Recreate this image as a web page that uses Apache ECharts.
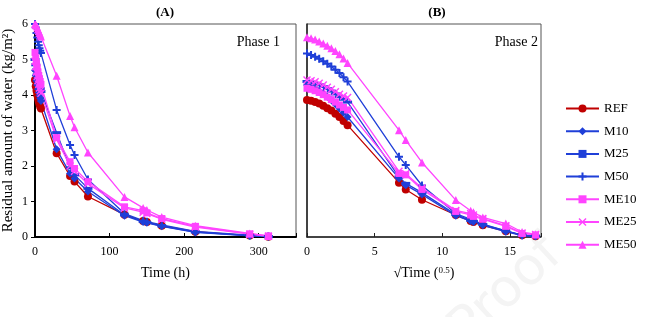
<!DOCTYPE html>
<html>
<head>
<meta charset="utf-8">
<title>Residual water</title>
<script src="https://cdn.jsdelivr.net/npm/echarts@6/dist/echarts.min.js"></script>
<style>
  html, body { margin: 0; padding: 0; background: #fff; }
  #chart { width: 665px; height: 317px; }
</style>
</head>
<body>
<div id="chart"></div>
<script>
// Phase 1 (panel A): time in hours
var timeA = [0, 1, 2, 3, 4, 5, 6, 7, 8, 29, 47, 53, 71, 120, 145, 150, 170, 215, 288, 313];
var refA  = [4.42, 4.25, 4.12, 4.0, 3.9, 3.82, 3.74, 3.67, 3.62, 2.36, 1.72, 1.56, 1.14, 0.63, 0.45, 0.42, 0.32, 0.15, 0.04, 0.01];
var m10A  = [4.7, 4.55, 4.4, 4.28, 4.17, 4.07, 3.98, 3.9, 3.83, 2.47, 1.79, 1.65, 1.28, 0.6, 0.42, 0.4, 0.3, 0.13, 0.03, 0.01];
var m25A  = [5.0, 4.85, 4.7, 4.57, 4.45, 4.35, 4.26, 4.18, 4.1, 2.94, 1.95, 1.75, 1.37, 0.62, 0.44, 0.41, 0.31, 0.14, 0.04, 0.01];
var m50A  = [6.0, 5.9, 5.75, 5.62, 5.5, 5.4, 5.32, 5.25, 5.18, 3.58, 2.59, 2.31, 1.62, 0.66, 0.46, 0.43, 0.34, 0.16, 0.05, 0.02];
var me10A = [5.2, 5.05, 4.9, 4.77, 4.65, 4.55, 4.46, 4.38, 4.3, 2.8, 2.12, 1.93, 1.56, 0.85, 0.74, 0.68, 0.52, 0.3, 0.09, 0.03];
var me25A = [4.95, 4.8, 4.65, 4.52, 4.4, 4.3, 4.2, 4.12, 4.05, 2.75, 2.0, 1.85, 1.5, 0.82, 0.7, 0.66, 0.5, 0.28, 0.08, 0.02];
var me50A = [6.0, 5.98, 5.95, 5.9, 5.85, 5.8, 5.75, 5.7, 5.65, 4.54, 3.41, 3.09, 2.38, 1.13, 0.82, 0.76, 0.56, 0.32, 0.1, 0.03];

// Phase 2 (panel B): square root of time
var sqrtTimeB = [0, 0.3, 0.6, 0.9, 1.2, 1.5, 1.8, 2.1, 2.4, 2.7, 3.0, 6.8, 7.3, 8.5, 11.0, 12.1, 12.3, 13.0, 14.7, 15.9, 16.9];
var refB  = [3.86, 3.84, 3.8, 3.76, 3.7, 3.63, 3.56, 3.47, 3.38, 3.27, 3.15, 1.53, 1.34, 1.05, 0.62, 0.45, 0.42, 0.33, 0.16, 0.05, 0.02];
var m10B  = [4.28, 4.24, 4.19, 4.12, 4.04, 3.95, 3.85, 3.74, 3.62, 3.5, 3.38, 1.65, 1.46, 1.2, 0.6, 0.45, 0.42, 0.33, 0.15, 0.04, 0.02];
var m25B  = [4.38, 4.36, 4.33, 4.29, 4.24, 4.18, 4.11, 4.03, 3.95, 3.88, 3.8, 1.69, 1.51, 1.25, 0.63, 0.47, 0.44, 0.35, 0.17, 0.05, 0.02];
var m50B  = [5.17, 5.13, 5.08, 5.02, 4.95, 4.88, 4.8, 4.71, 4.62, 4.5, 4.38, 2.26, 2.03, 1.45, 0.66, 0.5, 0.46, 0.36, 0.17, 0.05, 0.03];
var me10B = [4.19, 4.16, 4.12, 4.07, 4.01, 3.94, 3.87, 3.8, 3.72, 3.65, 3.58, 1.79, 1.75, 1.34, 0.72, 0.62, 0.58, 0.5, 0.3, 0.1, 0.06];
var me25B = [4.42, 4.4, 4.37, 4.33, 4.28, 4.22, 4.16, 4.09, 4.02, 3.97, 3.93, 1.85, 1.78, 1.38, 0.75, 0.66, 0.62, 0.52, 0.32, 0.11, 0.07];
var me50B = [5.63, 5.6, 5.56, 5.51, 5.45, 5.39, 5.32, 5.24, 5.15, 5.03, 4.9, 3.01, 2.73, 2.1, 1.04, 0.74, 0.7, 0.55, 0.38, 0.14, 0.08];

var seriesNames = ['REF', 'M10', 'M25', 'M50', 'ME10', 'ME25', 'ME50'];

var RED = '#C00000';
var BLUE = '#1F3FD8';
var PINK = '#FF44FF';
var FONT = 'Liberation Serif';

var PLUS = 'path://M3,0H5V3H8V5H5V8H3V5H0V3H3Z';
var CROSS = 'path://M1,0L4,3L7,0L8,1L5,4L8,7L7,8L4,5L1,8L0,7L3,4L0,1Z';

var styles = {
  REF:  { color: RED,  symbol: 'circle',   size: 8 },
  M10:  { color: BLUE, symbol: 'diamond',  size: 8 },
  M25:  { color: BLUE, symbol: 'rect',     size: [9, 3] },
  M50:  { color: BLUE, symbol: PLUS,       size: 8 },
  ME10: { color: PINK, symbol: 'rect',     size: 7 },
  ME25: { color: PINK, symbol: CROSS,      size: 8 },
  ME50: { color: PINK, symbol: 'triangle', size: 8 }
};

var dataA = { REF: refA, M10: m10A, M25: m25A, M50: m50A, ME10: me10A, ME25: me25A, ME50: me50A };
var dataB = { REF: refB, M10: m10B, M25: m25B, M50: m50B, ME10: me10B, ME25: me25B, ME50: me50B };

function makeSeries(name, xs, ys, idx) {
  var s = styles[name];
  return {
    name: name,
    type: 'line',
    xAxisIndex: idx,
    yAxisIndex: idx,
    data: xs.map(function (x, i) { return [x, ys[i]]; }),
    symbol: s.symbol,
    symbolSize: s.size,
    showAllSymbol: true,
    clip: false,
    lineStyle: { color: s.color, width: 1.3 },
    itemStyle: { color: s.color },
    emphasis: { disabled: true }
  };
}

var series = [];
seriesNames.forEach(function (n) { series.push(makeSeries(n, timeA, dataA[n], 0)); });
seriesNames.forEach(function (n) { series.push(makeSeries(n, sqrtTimeB, dataB[n], 1)); });

var chart = echarts.init(document.getElementById('chart'), null, { renderer: 'canvas' });

var option = {
  animation: false,
  textStyle: { fontFamily: FONT },
  grid: [
    { left: 33, top: 24, width: 263, height: 213, show: true, borderColor: '#555', borderWidth: 1 },
    { left: 307, top: 24, width: 234, height: 213, show: true, borderColor: '#555', borderWidth: 1 }
  ],
  xAxis: [
    {
      gridIndex: 0, type: 'value', min: 0, max: 350, interval: 100,
      name: 'Time (h)', nameLocation: 'middle', nameGap: 29,
      nameTextStyle: { fontFamily: FONT, fontSize: 14, color: '#000' },
      axisLine: { show: true, lineStyle: { color: '#000', width: 2 } },
      axisTick: { show: true, inside: true, length: 4, lineStyle: { color: '#000' } },
      axisLabel: {
        fontFamily: FONT, fontSize: 12, color: '#000', margin: 9,
        formatter: function (v) { return v % 100 === 0 ? String(v) : ''; }
      },
      splitLine: { show: false }
    },
    {
      gridIndex: 1, type: 'value', min: 0, max: 17.3, interval: 5,
      name: '√Time ({sup|0.5})', nameLocation: 'middle', nameGap: 29,
      nameTextStyle: {
        fontFamily: FONT, fontSize: 14, color: '#000',
        rich: { sup: { fontFamily: FONT, fontSize: 9, verticalAlign: 'top', padding: [0, 0, 6, 0] } }
      },
      axisLine: { show: true, lineStyle: { color: '#222', width: 1.5 } },
      axisTick: { show: true, inside: true, length: 4, lineStyle: { color: '#222' } },
      axisLabel: {
        fontFamily: FONT, fontSize: 12, color: '#000', margin: 9,
        formatter: function (v) { return v % 5 === 0 ? String(v) : ''; }
      },
      splitLine: { show: false }
    }
  ],
  yAxis: [
    {
      gridIndex: 0, type: 'value', min: 0, max: 6, interval: 1,
      name: 'Residual amount of water (kg/m²)', nameLocation: 'middle', nameGap: 19,
      nameTextStyle: { fontFamily: FONT, fontSize: 15, color: '#000' },
      axisLine: { show: true, lineStyle: { color: '#000', width: 2 } },
      axisTick: { show: true, length: 4, lineStyle: { color: '#000' } },
      axisLabel: { fontFamily: FONT, fontSize: 12, color: '#000', margin: 7 },
      splitLine: { show: false }
    },
    {
      gridIndex: 1, type: 'value', min: 0, max: 6, interval: 1,
      axisLine: { show: true, lineStyle: { color: '#222', width: 1.5 } },
      axisTick: { show: false },
      axisLabel: { show: false },
      splitLine: { show: false }
    }
  ],
  legend: {
    data: seriesNames,
    orient: 'vertical',
    left: 560,
    top: 97,
    itemWidth: 33,
    itemHeight: 10,
    itemGap: 9.7,
    selectedMode: false,
    textStyle: { fontFamily: FONT, fontSize: 13, color: '#000' }
  },
  graphic: [
    {
      type: 'text', left: 440, top: 228, rotation: 0.75, z: -10,
      style: { text: 'Proof', fontFamily: 'DejaVu Sans', fontSize: 52, fill: '#f4f4f4' }
    },
    {
      type: 'text', x: 165, y: 13,
      style: { text: '(A)', fontFamily: FONT, fontSize: 13, fontWeight: 'bold', fill: '#000', align: 'center', verticalAlign: 'middle' }
    },
    {
      type: 'text', x: 437, y: 13,
      style: { text: '(B)', fontFamily: FONT, fontSize: 13, fontWeight: 'bold', fill: '#000', align: 'center', verticalAlign: 'middle' }
    },
    {
      type: 'text', x: 280, y: 42,
      style: { text: 'Phase 1', fontFamily: FONT, fontSize: 14, fill: '#000', align: 'right', verticalAlign: 'middle' }
    },
    {
      type: 'text', x: 538, y: 42,
      style: { text: 'Phase 2', fontFamily: FONT, fontSize: 14, fill: '#000', align: 'right', verticalAlign: 'middle' }
    }
  ],
  series: series
};

chart.setOption(option);
</script>
</body>
</html>
